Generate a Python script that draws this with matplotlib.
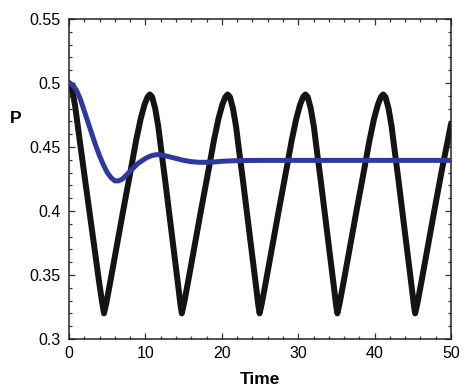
# Importamos pyplot de matplotlib para dibujar el gráfico
import matplotlib.pyplot as plt
from matplotlib.ticker import MultipleLocator

# Curva negra: oscilación sostenida
tiempo_negra = [0.0, 0.4, 0.8, 1.2, 1.7, 2.2, 2.8, 3.4, 3.9, 4.3,
                4.58, 4.88, 5.38, 6.08, 7.08, 8.08, 8.78, 9.38, 9.88, 10.28,
                10.58, 10.88, 11.28, 11.68, 12.08, 12.58, 13.18, 13.78, 14.28, 14.58,
                14.76, 15.06, 15.56, 16.26, 17.26, 18.26, 18.96, 19.56, 20.06, 20.46,
                20.76, 21.06, 21.46, 21.86, 22.26, 22.76, 23.36, 23.96, 24.46, 24.76,
                24.94, 25.24, 25.74, 26.44, 27.44, 28.44, 29.14, 29.74, 30.24, 30.64,
                30.94, 31.24, 31.64, 32.04, 32.44, 32.94, 33.54, 34.14, 34.64, 34.94,
                35.12, 35.42, 35.92, 36.62, 37.62, 38.62, 39.32, 39.92, 40.42, 40.82,
                41.12, 41.42, 41.82, 42.22, 42.62, 43.12, 43.72, 44.32, 44.82, 45.12,
                45.30, 45.60, 46.10, 46.80, 47.80, 48.80, 49.50, 50.0]
p_negra = [0.500, 0.495, 0.482, 0.464, 0.442, 0.420, 0.394, 0.368, 0.346, 0.330,
           0.320, 0.328, 0.344, 0.367, 0.400, 0.432, 0.455, 0.472, 0.483, 0.489,
           0.491, 0.489, 0.480, 0.466, 0.447, 0.424, 0.395, 0.366, 0.342, 0.327,
           0.320, 0.328, 0.344, 0.367, 0.400, 0.432, 0.455, 0.472, 0.483, 0.489,
           0.491, 0.489, 0.480, 0.466, 0.447, 0.424, 0.395, 0.366, 0.342, 0.327,
           0.320, 0.328, 0.344, 0.367, 0.400, 0.432, 0.455, 0.472, 0.483, 0.489,
           0.491, 0.489, 0.480, 0.466, 0.447, 0.424, 0.395, 0.366, 0.342, 0.327,
           0.320, 0.328, 0.344, 0.367, 0.400, 0.432, 0.455, 0.472, 0.483, 0.489,
           0.491, 0.489, 0.480, 0.466, 0.447, 0.424, 0.395, 0.366, 0.342, 0.327,
           0.320, 0.328, 0.344, 0.367, 0.400, 0.432, 0.453, 0.468]

# Curva azul: oscilación amortiguada hacia el equilibrio
tiempo_azul = [0.0, 0.5, 1.0, 1.5, 2.0, 2.5, 3.0, 3.5, 4.0, 4.5,
               5.0, 5.5, 6.0, 6.5, 7.0, 7.5, 8.0, 8.5, 9.0, 9.5,
               10.0, 10.5, 11.0, 11.5, 12.0, 12.5, 13.0, 14.0, 15.0, 16.0,
               17.0, 18.0, 19.0, 20.0, 22.0, 25.0, 30.0, 40.0, 50.0]
p_azul = [0.500, 0.4985, 0.494, 0.487, 0.478, 0.469, 0.460, 0.451, 0.443, 0.436,
          0.430, 0.426, 0.4235, 0.4235, 0.425, 0.428, 0.431, 0.434, 0.437, 0.439,
          0.441, 0.4425, 0.4435, 0.444, 0.4438, 0.4432, 0.4425, 0.441, 0.4395, 0.4385,
          0.438, 0.438, 0.4383, 0.4388, 0.4393, 0.4395, 0.4395, 0.4395, 0.4395]

# Fuente parecida a Helvetica
plt.rcParams['font.family'] = ['Liberation Sans', 'DejaVu Sans']

# Figura de 474x388 píxeles
fig = plt.figure(figsize=(4.74, 3.88), dpi=100)
ax = fig.add_axes([0.1456, 0.1263, 0.806, 0.825])

# Dibujamos las dos curvas (la azul encima)
ax.plot(tiempo_negra, p_negra, color='#141414', linewidth=4.3, solid_capstyle='round', zorder=2)
ax.plot(tiempo_azul, p_azul, color='#2c3a9c', linewidth=3.6, solid_capstyle='round', zorder=3)

# Límites de los ejes
ax.set_xlim(0, 50)
ax.set_ylim(0.3, 0.55)

# Marcas principales y secundarias hacia dentro en los cuatro lados
ax.xaxis.set_major_locator(MultipleLocator(10))
ax.xaxis.set_minor_locator(MultipleLocator(2))
ax.yaxis.set_major_locator(MultipleLocator(0.05))
ax.yaxis.set_minor_locator(MultipleLocator(0.01))
ax.tick_params(which='both', direction='in', top=True, right=True, color='#333333', width=0.9)
ax.tick_params(which='major', length=4, labelsize=11.5)
ax.tick_params(which='minor', length=2.2)
ax.tick_params(axis='x', pad=5)
ax.tick_params(axis='y', pad=6)

# Etiquetas de los valores del eje Y sin ceros sobrantes
ax.set_yticks([0.3, 0.35, 0.4, 0.45, 0.5, 0.55])
ax.set_yticklabels(['0.3', '0.35', '0.4', '0.45', '0.5', '0.55'])
ax.set_xticks([0, 10, 20, 30, 40, 50])
ax.set_xticklabels(['0', '10', '20', '30', '40', '50'])

for lado in ax.spines.values():
    lado.set_linewidth(1.1)
    lado.set_color('#222222')

# Títulos de los ejes en negrita
ax.set_xlabel('Time', fontsize=12.5, fontweight='bold')
ax.xaxis.set_label_coords(0.5, -0.103)
ax.set_ylabel('P', fontsize=12.5, fontweight='bold', rotation=0, va='center', ha='center')
ax.yaxis.set_label_coords(-0.139, 0.69)

# Guardamos la imagen
fig.savefig('out.png', dpi=100)
